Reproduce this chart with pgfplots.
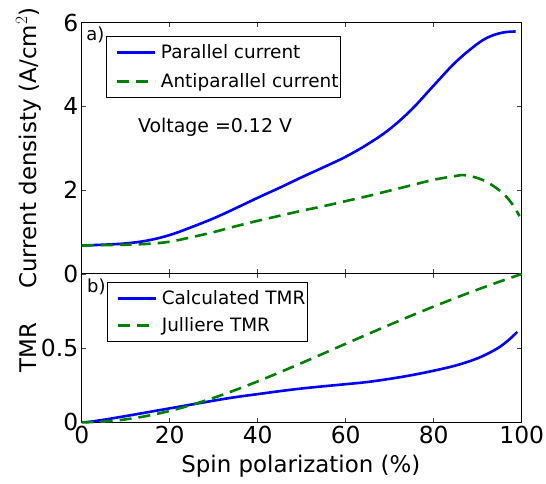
\documentclass[border=0pt]{standalone}
\usepackage{pgfplots}
\pgfplotsset{compat=1.18}
\usepackage{fontspec}
\setmainfont{DejaVu Sans}

\definecolor{mblue}{RGB}{0,0,255}
\definecolor{mgreen}{RGB}{0,128,0}

\pgfplotsset{
  panel/.style={
    scale only axis,
    width=440bp,
    xmin=0, xmax=100,
    axis line style={black, line width=1bp},
    tick align=inside,
    major tick length=4.5bp,
    every tick/.style={black!75, line width=0.9bp},
    tick label style={font=\fontsize{23.5}{27}\selectfont},
    /pgf/number format/assume math mode=true,
    label style={font=\fontsize{23}{27}\selectfont},
    legend cell align=left,
    legend style={
      font=\fontsize{18.5}{22}\selectfont,
      draw=black, line width=0.9bp,
      inner xsep=1bp, inner ysep=7bp,
      nodes={inner sep=1bp},
      column sep=4bp,
      row sep=12bp,
      anchor=north west,
    },
    legend image code/.code={
      \path (0bp,0bp);
      \draw[#1, line width=2.6bp] (8bp,0bp) -- (46bp,0bp);
    },
  },
  pcurve/.style={mblue, line width=2.6bp, smooth, tension=0.6},
  apcurve/.style={mgreen, line width=2.6bp, dash pattern=on 12bp off 7bp, smooth, tension=0.6},
}

\begin{document}
\begin{tikzpicture}
\useasboundingbox (0bp,0bp) rectangle (546bp,484bp);

% a) current densities
\begin{axis}[panel,
  at={(81.7bp,210bp)}, anchor=south west,
  height=251.3bp,
  ymin=0, ymax=6,
  xtick={0,20,40,60,80,100}, xticklabels={},
  ytick={0,2,4,6},
  ylabel={Current densisty (A/cm$^2$)},
  ylabel style={at={(axis description cs:-0.121,0.501)}, anchor=center},
  legend style={at={(axis description cs:0.055,0.947)}},
]
\addplot[pcurve] coordinates {
  (0,0.68) (5,0.70) (10,0.73) (15,0.80) (20,0.93) (25,1.12) (30,1.33)
  (35,1.57) (40,1.82) (45,2.06) (50,2.31) (55,2.55) (60,2.80) (65,3.10)
  (70,3.46) (75,3.93) (80,4.50) (85,5.06) (90,5.50) (93,5.68) (96,5.77)
  (98.6,5.79)
};
\addlegendentry{Parallel current}
\addplot[apcurve] coordinates {
  (0,0.68) (5,0.69) (10,0.70) (15,0.72) (20,0.77) (25,0.88) (30,1.00)
  (35,1.14) (40,1.27) (45,1.39) (50,1.51) (55,1.62) (60,1.74) (65,1.86)
  (70,1.99) (75,2.12) (80,2.25) (85,2.34) (87,2.36) (90,2.29) (92,2.20)
  (94,2.07) (96,1.90) (98,1.65) (99.5,1.38)
};
\addlegendentry{Antiparallel current}
\node[anchor=west, font=\fontsize{18}{21}\selectfont, inner sep=0pt]
  at (axis description cs:0.01,0.951) {a)};
\node[font=\fontsize{19}{22}\selectfont]
  at (axis description cs:0.303,0.585) {Voltage =0.12 V};
\end{axis}

% b) tunnelling magnetoresistance
\begin{axis}[panel,
  at={(81.7bp,61.7bp)}, anchor=south west,
  height=148.3bp,
  ymin=0, ymax=1,
  clip=false,
  xtick={0,20,40,60,80,100},
  ytick={0,0.5},
  xlabel={Spin polarization (\%)},
  xlabel style={at={(axis description cs:0.498,-0.295)}, anchor=center},
  ylabel={TMR},
  ylabel style={at={(axis description cs:-0.122,0.504)}, anchor=center},
  legend style={at={(axis description cs:0.057,0.946)}, row sep=10bp},
]
\addplot[pcurve] coordinates {
  (1,0.0) (5,0.017) (10,0.042) (15,0.068) (20,0.094) (25,0.12) (30,0.146)
  (35,0.17) (40,0.19) (45,0.21) (50,0.228) (55,0.243) (60,0.257)
  (65,0.272) (70,0.293) (75,0.318) (80,0.348) (85,0.383) (90,0.432)
  (94,0.49) (96,0.53) (97.5,0.567) (99,0.61)
};
\addlegendentry{Calculated TMR}
\addplot[apcurve] coordinates {
  (0,0) (5,0.005) (10,0.0198) (15,0.044) (20,0.0769) (25,0.1176)
  (30,0.1651) (35,0.2183) (40,0.2759) (45,0.3368) (50,0.4) (55,0.4645)
  (60,0.5294) (65,0.594) (70,0.6577) (75,0.72) (80,0.7805) (85,0.8389)
  (90,0.8950) (95,0.9488) (99,0.99) (100,1)
};
\addlegendentry{Julliere TMR}
\node[anchor=west, font=\fontsize{18}{21}\selectfont, inner sep=0pt]
  at (axis description cs:0.012,0.912) {b)};
\end{axis}
\end{tikzpicture}
\end{document}
